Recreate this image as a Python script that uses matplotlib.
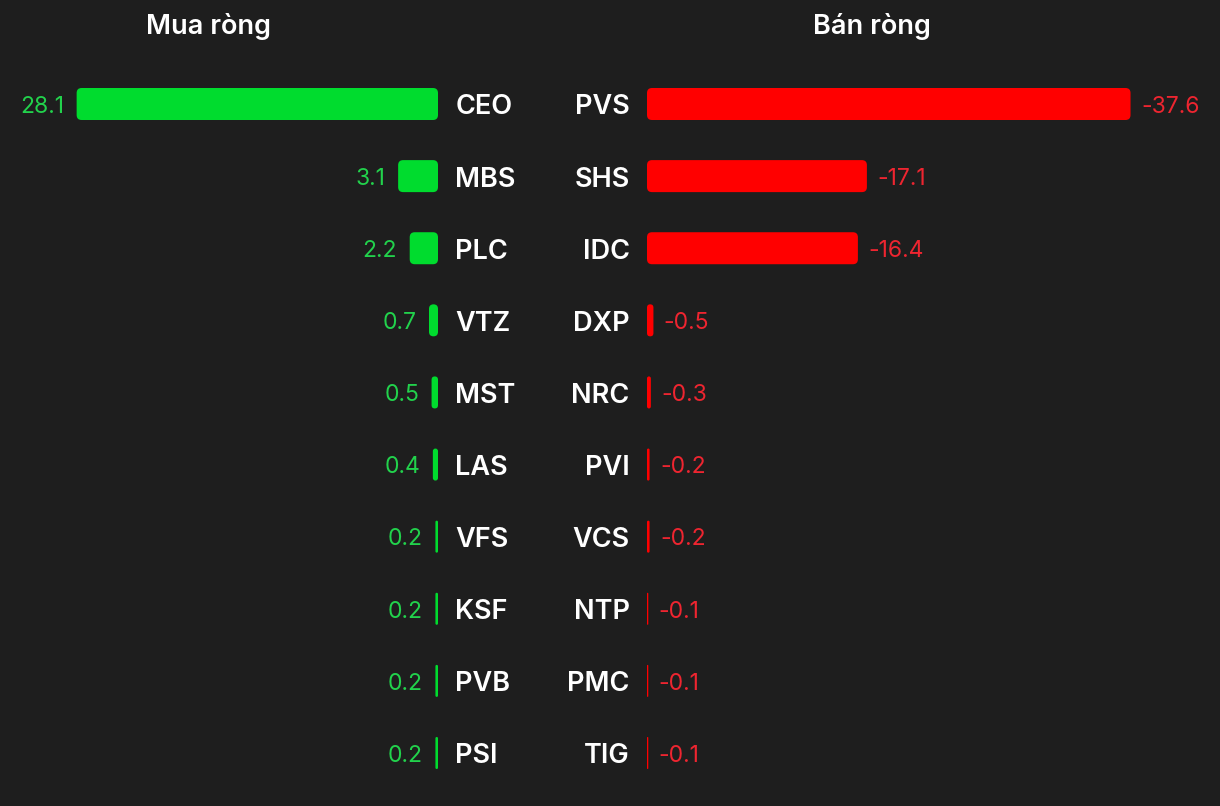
import matplotlib
matplotlib.use('Agg')
from matplotlib import pyplot as plt
from matplotlib.patches import FancyBboxPatch

# net buy (left) and net sell (right), in billions
buy_tickers = ['CEO', 'MBS', 'PLC', 'VTZ', 'MST', 'LAS', 'VFS', 'KSF', 'PVB', 'PSI']
buy_values = [28.1, 3.1, 2.2, 0.7, 0.5, 0.4, 0.2, 0.2, 0.2, 0.2]
sell_tickers = ['PVS', 'SHS', 'IDC', 'DXP', 'NRC', 'PVI', 'VCS', 'NTP', 'PMC', 'TIG']
sell_values = [-37.6, -17.1, -16.4, -0.5, -0.3, -0.2, -0.2, -0.1, -0.1, -0.1]

BG = '#1e1e1e'
GREEN_BAR = '#00dc2e'
GREEN_TXT = '#22d24c'
RED_BAR = '#ff0000'
RED_TXT = '#ee2530'
FONT = 'Inter'

W, H = 1220, 806
fig = plt.figure(figsize=(W / 100, H / 100), dpi=100, facecolor=BG)

px_per_unit = 12.86
row_px = 72.1
top_px, bot_px = 104 - row_px / 2, 753 + row_px / 2
ax_b = 1 - bot_px / H
ax_h = (bot_px - top_px) / H

left_w = 438
right_x = 647
ax_l = fig.add_axes([0, ax_b, left_w / W, ax_h])
ax_r = fig.add_axes([right_x / W, ax_b, (W - right_x) / W, ax_h])
ax_l.set_xlim(left_w / px_per_unit, 0)
ax_r.set_xlim(0, (W - right_x) / px_per_unit)

bar_h = 32 / row_px
aspect = px_per_unit / row_px
rad = 5 / px_per_unit


def draw_side(ax, tickers, values, bar_col, txt_col, sign):
    n = len(tickers)
    ax.set_ylim(n - 0.5, -0.5)
    ax.set_facecolor(BG)
    ax.axis('off')
    for i, (t, v) in enumerate(zip(tickers, values)):
        w = abs(v)
        r = min(rad, w / 2)
        ax.add_patch(FancyBboxPatch((0, i - bar_h / 2), w, bar_h,
                                    boxstyle=f'round,pad=0,rounding_size={r}',
                                    mutation_aspect=aspect, fc=bar_col, ec='none'))
        ax.annotate(f'{v}', (w, i), xytext=(sign * (7.5 if sign > 0 else 9.0), -2),
                    textcoords='offset points',
                    ha='left' if sign > 0 else 'right', va='center',
                    color=txt_col, fontsize=16.5, family=FONT, weight='normal',
                    annotation_clip=False)
        ax.annotate(t, (0, i), xytext=(-sign * 12.5, -2.5), textcoords='offset points',
                    ha='right' if sign > 0 else 'left', va='center',
                    color='white', fontsize=19.5, family=FONT, weight='semibold',
                    annotation_clip=False)


draw_side(ax_l, buy_tickers, buy_values, GREEN_BAR, GREEN_TXT, -1)
draw_side(ax_r, sell_tickers, sell_values, RED_BAR, RED_TXT, 1)

fig.text(209 / W, 1 - 26 / H, 'Mua ròng', ha='center', va='center',
         color='white', fontsize=19.5, family=FONT, weight='semibold')
fig.text(872 / W, 1 - 26 / H, 'Bán ròng', ha='center', va='center',
         color='white', fontsize=19.5, family=FONT, weight='semibold')

fig.savefig('out.png', dpi=100, facecolor=BG)
